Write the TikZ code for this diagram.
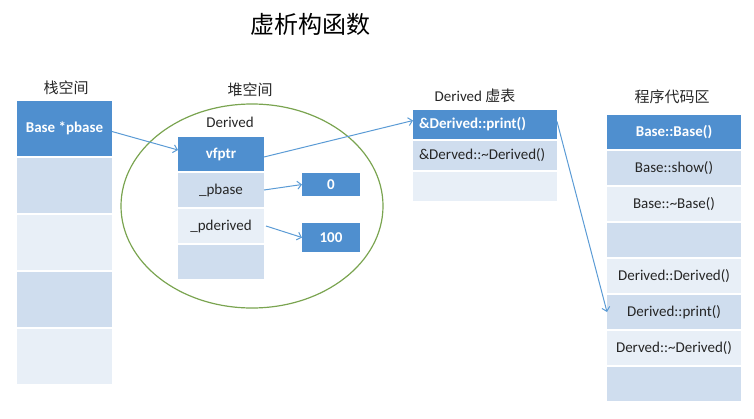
\documentclass[tikz,border=0pt]{standalone}
\usepackage{fontspec}
\setmainfont{Carlito}
\newfontfamily\cjk{Noto Sans CJK SC}
\usetikzlibrary{positioning, arrows.meta, shapes.geometric}

\definecolor{cdark}{RGB}{79,143,207}
\definecolor{cmid}{RGB}{207,221,238}
\definecolor{clight}{RGB}{232,239,247}
\definecolor{carrow}{RGB}{91,155,213}
\definecolor{cgreen}{RGB}{122,164,80}
\definecolor{ctext}{RGB}{38,38,38}

\begin{document}
\begin{tikzpicture}
  [
  x = 1pt, y = -1pt, node distance = 2pt,
  cell/.style={inner sep=0pt, outer sep=0pt, text=ctext, font=\fontsize{15}{18}\selectfont},
  dark cell/.style={cell, fill=cdark, text=white, font=\fontsize{15}{18}\selectfont\bfseries},
  mid cell/.style={cell, fill=cmid},
  light cell/.style={cell, fill=clight},
  stack/.style={minimum width=95pt, minimum height=55pt},
  obj/.style={minimum width=86pt, minimum height=34pt},
  vtab/.style={minimum width=144pt, minimum height=29pt, inner xsep=6pt, text width=132pt, align=left},
  code/.style={minimum width=134pt, minimum height=34pt},
  head/.style={font=\cjk\fontsize{15}{18}\selectfont, text=ctext},
  ptr/.style={-{Straight Barb[length=4pt,width=8pt]}, draw=carrow, line width=1pt}
  ]
  \useasboundingbox (0,0) rectangle (754,418);

  \node (title) at (310,24) {\cjk\fontsize{24}{28}\selectfont 虚析构函数};

  % stack
  \node[head] (stacklbl) at (66,88) {栈空间};
  \node[dark cell, stack]  (s1) at (64.5,128.5) {Base *pbase};
  \node[mid cell, stack]   (s2) [below=of s1] {};
  \node[light cell, stack] (s3) [below=of s2] {};
  \node[mid cell, stack]   (s4) [below=of s3] {};
  \node[light cell, stack] (s5) [below=of s4] {};

  % heap
  \node[head] (heaplbl) at (250,90) {堆空间};
  \node[ellipse, draw=cgreen, line width=1.2pt, minimum width=262pt, minimum height=204pt]
    (heap) at (252,206) {};
  \node[cell] (objlbl) at (230,122) {Derived};
  \node[dark cell, obj]  (vfptr)    at (221,154) {vfptr};
  \node[mid cell, obj]   (pbase)    [below=of vfptr] {\_pbase};
  \node[light cell, obj] (pderived) [below=of pbase] {\_pderived};
  \node[mid cell, obj]   (o4)       [below=of pderived] {};

  \node[dark cell, minimum width=58pt, minimum height=23pt] (zero)    at (331,184.5) {0};
  \node[dark cell, minimum width=58pt, minimum height=29pt] (hundred) at (331,237.5) {100};

  % vtable
  \node[head] (vtablbl) at (475,96) {\fontspec{Carlito}Derived \cjk 虚表};
  \node[dark cell, vtab]  (v1) at (485,124.5) {\&Derived::print()};
  \node[mid cell, vtab]   (v2) [below=of v1] {\&Derved::\textasciitilde Derived()};
  \node[light cell, vtab] (v3) [below=of v2] {};

  % code
  \node[head] (codelbl) at (672,97) {程序代码区};
  \node[dark cell, code]  (c1) at (674,132) {Base::Base()};
  \node[mid cell, code]   (c2) [below=of c1] {Base::show()};
  \node[light cell, code] (c3) [below=of c2] {Base::\textasciitilde Base()};
  \node[mid cell, code]   (c4) [below=of c3] {};
  \node[light cell, code] (c5) [below=of c4] {Derived::Derived()};
  \node[mid cell, code]   (c6) [below=of c5] {Derived::print()};
  \node[light cell, code] (c7) [below=of c6] {Derved::\textasciitilde Derived()};
  \node[mid cell, code]   (c8) [below=of c7] {};

  \draw[ptr] ([yshift=-3pt]s1.east) -- ([yshift=4pt]vfptr.west);
  \draw[ptr] ([yshift=-3pt]vfptr.east) -- ([yshift=4pt]v1.west);
  \draw[ptr] (pbase.east) -- (zero.west);
  \draw[ptr] ([xshift=2pt]pderived.east) -- (hundred.west);
  \draw[ptr] ([yshift=3pt]v1.east) -- (c6.west);
\end{tikzpicture}
\end{document}
